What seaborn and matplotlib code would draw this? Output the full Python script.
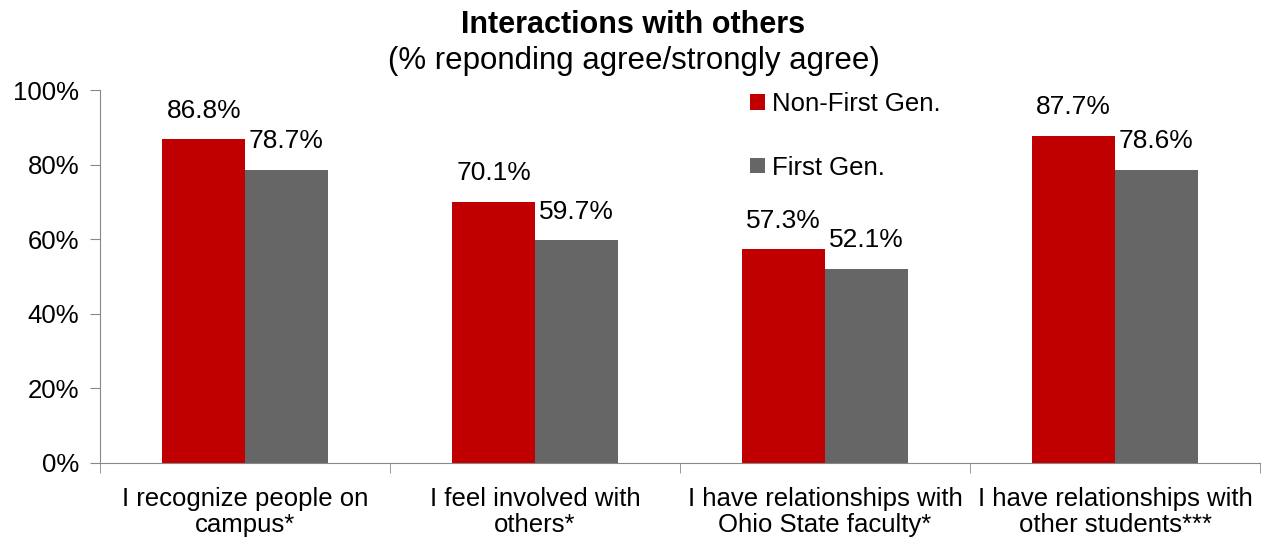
import pandas as pd
import numpy as np
import matplotlib.pyplot as plt
import seaborn as sns

# -------------------- Data --------------------
categories = ['I recognize people on\ncampus*', 'I feel involved with\nothers*',
              'I have relationships with\nOhio State faculty*', 'I have relationships with\nother students***']
groups = ['Non-First Gen.', 'First Gen.']
non_first_gen = [86.8, 70.1, 57.3, 87.7]
first_gen = [78.7, 59.7, 52.1, 78.6]
palette = ['#C00000', '#666666']

df = pd.DataFrame({
    'Category': categories * 2,
    'Group': [groups[0]] * 4 + [groups[1]] * 4,
    'Value': non_first_gen + first_gen,
})

# -------------------- Plot --------------------
sns.set_style('white')
plt.rcParams['font.family'] = ['Liberation Sans', 'DejaVu Sans']
plt.rcParams['text.color'] = 'black'

fig = plt.figure(figsize=(12.67, 5.37), dpi=100)
ax = fig.add_axes([0.079, 0.138, 0.9155, 0.694])

sns.barplot(data=df, x='Category', y='Value', hue='Group', palette=palette,
            width=0.57, gap=0, saturation=1, linewidth=0, ax=ax)

for c in ax.containers:
    ax.bar_label(c, fmt='%.1f%%', padding=12, fontsize=19, color='black')

ax.set_ylim(0, 100)
ax.set_xlim(-0.5, 3.5)
ax.set_yticks(np.arange(0, 101, 20))
ax.set_yticklabels([f'{v}%' for v in range(0, 101, 20)], fontsize=18.5, color='black')
ax.set_xticklabels(categories, fontsize=18.5, color='black', linespacing=1.15)
ax.set_xlabel('')
ax.set_ylabel('')

# tick marks at group boundaries
ax.set_xticks(np.arange(-0.5, 3.6, 1), minor=True)
ax.tick_params(axis='x', which='major', length=0, pad=17)
ax.tick_params(axis='x', which='minor', length=7, color='#888888', direction='out', bottom=True)
ax.tick_params(axis='y', length=7, color='#888888', direction='out', left=True, pad=8)

sns.despine(ax=ax)
for s in ['left', 'bottom']:
    ax.spines[s].set_color('#888888')

ax.legend(loc='upper left', bbox_to_anchor=(0.574, 0.872), bbox_transform=fig.transFigure,
          frameon=False, fontsize=18.5, handlelength=0.55, handleheight=0.55,
          handletextpad=0.3, labelspacing=1.55)

fig.text(0.5, 0.954, 'Interactions with others', ha='center', va='center',
         fontsize=22, fontweight='bold')
fig.text(0.5, 0.886, '(% reponding agree/strongly agree)', ha='center', va='center',
         fontsize=22.5)

fig.savefig('out.png', dpi=100)
